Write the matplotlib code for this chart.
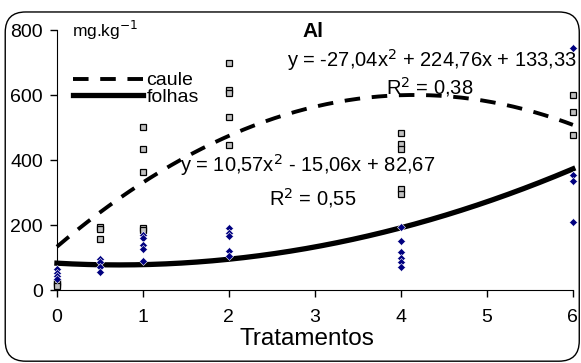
import numpy as np
import matplotlib.pyplot as plt
from matplotlib.patches import FancyBboxPatch

plt.rcParams['font.family'] = ['Liberation Sans', 'DejaVu Sans']

# caule (gray squares)
caule_x = [0, 0, 0, 0.5, 0.5, 0.5, 1, 1, 1, 1, 1,
           2, 2, 2, 2, 2, 4, 4, 4, 4, 4, 6, 6, 6]
caule_y = [25, 18, 12, 195, 188, 157, 502, 434, 363, 190, 185,
           698, 615, 606, 532, 446, 483, 450, 435, 310, 295, 600, 548, 477]

# folhas (blue diamonds)
folhas_x = [0, 0, 0, 0, 0.5, 0.5, 0.5, 0.5, 1, 1, 1, 1, 1,
            2, 2, 2, 2, 2, 4, 4, 4, 4, 4, 4, 6, 6, 6, 6]
folhas_y = [65, 52, 42, 35, 95, 85, 70, 55, 170, 160, 140, 125, 88,
            190, 175, 165, 120, 105, 195, 150, 118, 100, 85, 70, 745, 355, 335, 210]

# trendline coefficients as printed on the chart
caule_coef = [-27.04, 224.76, 133.33]
folhas_coef = [10.57, -15.06, 82.67]

xticks = [0, 1, 2, 3, 4, 5, 6]
yticks = [0, 200, 400, 600, 800]

fig = plt.figure(figsize=(5.81, 3.63), dpi=100)
ax = fig.add_axes([0.098, 0.201, 0.888, 0.716])

# rounded border around the chart
border = FancyBboxPatch((0.009, 0.005), 0.988, 0.962,
                        boxstyle="round,pad=0,rounding_size=0.035",
                        transform=fig.transFigure, fill=False,
                        edgecolor='black', linewidth=1.0,
                        mutation_aspect=581 / 363)
fig.patches.append(border)

xs = np.linspace(0, 6, 200)
ax.plot(xs, np.polyval(caule_coef, xs), color='black', linewidth=2.8,
        linestyle=(0, (4, 3)), label='caule', zorder=2)
ax.plot(xs, np.polyval(folhas_coef, xs), color='black', linewidth=3.8,
        label='folhas', zorder=2)

ax.plot(caule_x, caule_y, 's', markersize=4.5, markerfacecolor='#c0c0c0',
        markeredgecolor='black', markeredgewidth=0.9, linestyle='none',
        zorder=3)
ax.plot(folhas_x, folhas_y, 'D', markersize=3.8, markerfacecolor='#000080',
        markeredgecolor='white', markeredgewidth=0.4, linestyle='none',
        zorder=4)

ax.set_xlim(0, 6)
ax.set_ylim(0, 800)
ax.set_xticks(xticks)
ax.set_yticks(yticks)
ax.tick_params(axis='both', labelsize=14, direction='out', length=5,
               width=1, pad=5)
ax.tick_params(axis='x', pad=9)
ax.spines['top'].set_visible(False)
ax.spines['right'].set_visible(False)
ax.set_xlabel('Tratamentos', fontsize=17.5)
ax.xaxis.set_label_coords(0.485, -0.145)
for line in ax.lines:
    line.set_clip_on(False)

ax.legend(loc='upper left', bbox_to_anchor=(0.017, 0.87), frameon=False,
          fontsize=14, handlelength=3.6, handletextpad=0.15,
          labelspacing=-0.05, borderaxespad=0.0)

ax.text(0.03, 1.0, 'mg.kg$^{-1}$', transform=ax.transAxes, fontsize=12.5,
        ha='left', va='center')
ax.set_title('Al', fontsize=15, fontweight='bold', y=0.94, x=0.496)
ax.text(6.05, 708, 'y = -27,04x$^2$ + 224,76x + 133,33', fontsize=14.5,
        ha='right', va='center')
ax.text(4.34, 625, 'R$^2$ = 0,38', fontsize=14.5, ha='center', va='center')
ax.text(1.43, 385, 'y = 10,57x$^2$ - 15,06x + 82,67', fontsize=14.5,
        ha='left', va='center')
ax.text(2.98, 283, 'R$^2$ = 0,55', fontsize=14.5, ha='center', va='center')

fig.savefig('out.png', dpi=100)
